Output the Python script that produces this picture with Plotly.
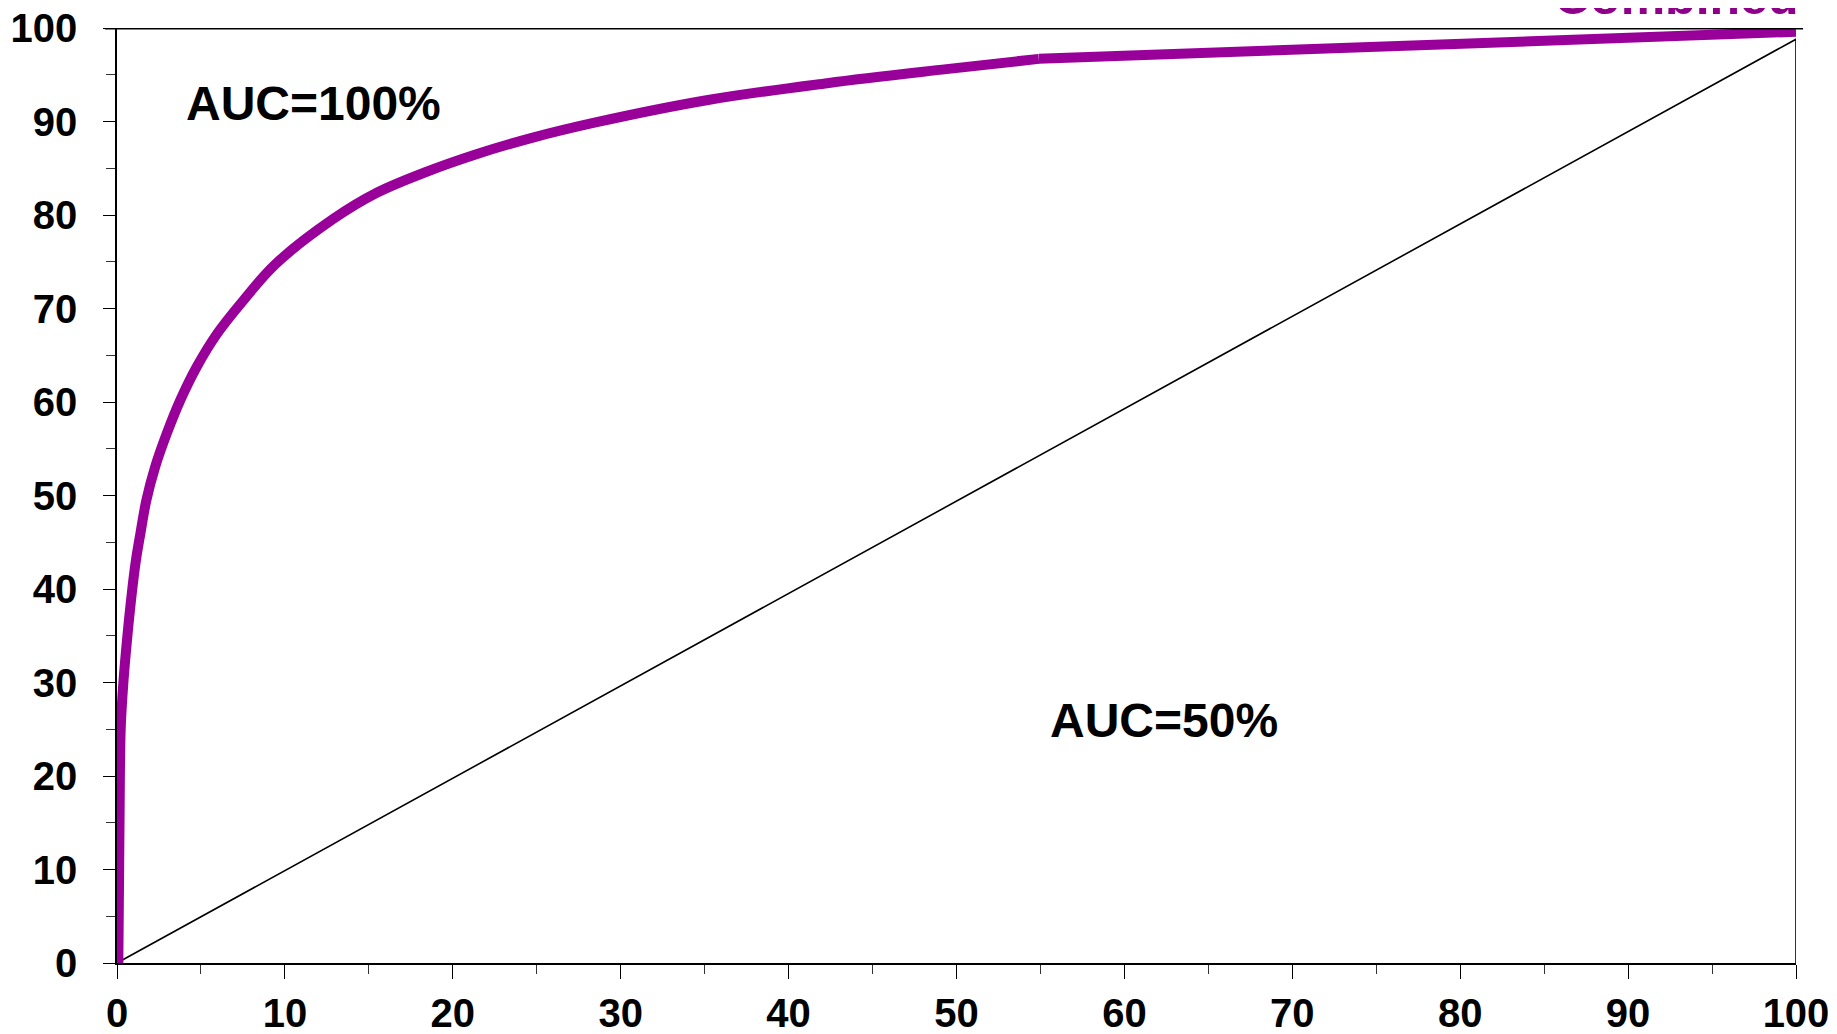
import plotly.graph_objects as go

# ROC curve "Combined" (false positive % vs true positive %): curved part up to the kink
combined_x = [0.08, 0.15, 0.22, 0.38, 0.62, 0.91, 1.13, 1.39, 1.75, 2.28, 2.98,
              3.77, 4.76, 5.96, 7.54, 9.41, 12.9, 15.5, 18.4, 21.4, 24.6, 28.5,
              35.2, 42.3, 49.4, 54.9]
combined_y = [0, 15, 25, 30, 35, 40, 43.1, 45.9, 49.5, 53.1, 56.7,
              60.2, 63.8, 67.3, 70.9, 74.7, 79.6, 82.4, 84.6, 86.5, 88.2, 89.9,
              92.3, 94.1, 95.6, 96.7]
# straight tail of the same curve after the kink
combined_tail_x = [54.9, 100]
combined_tail_y = [96.7, 99.6]

# chance (reference) line
chance_x = [0, 100, 100]
chance_y = [0, 98.8, 0]

tick_vals = [0, 10, 20, 30, 40, 50, 60, 70, 80, 90, 100]
tick_text = [str(v) for v in tick_vals]

PURPLE = "#990099"
FONT = "Liberation Sans, Arial, sans-serif"

fig = go.Figure()
fig.add_trace(go.Scatter(x=chance_x, y=chance_y, mode="lines",
                         line=dict(color="black", width=1.6),
                         cliponaxis=False, showlegend=False, hoverinfo="skip"))
fig.add_trace(go.Scatter(x=combined_x, y=combined_y, mode="lines",
                         line=dict(color=PURPLE, width=10, shape="spline", smoothing=1.0),
                         cliponaxis=False, showlegend=False, name="Combined"))
fig.add_trace(go.Scatter(x=combined_tail_x, y=combined_tail_y, mode="lines",
                         line=dict(color=PURPLE, width=10),
                         cliponaxis=False, showlegend=False, name="Combined"))

axis_common = dict(
    range=[0, 100], tickvals=tick_vals, ticktext=tick_text, automargin=False,
    ticklabeloverflow="allow",
    showgrid=False, zeroline=False, showline=True, linecolor="black", linewidth=1.6,
    ticks="outside", tickcolor="black", tickwidth=1.3,
    tickfont=dict(family=FONT, size=40, color="black", weight="bold"),
    minor=dict(dtick=5, ticks="outside", ticklen=9, tickcolor="#333333", tickwidth=1.2, showgrid=False),
    fixedrange=True,
)

fig.update_xaxes(**axis_common, ticklen=14, ticklabelstandoff=0)
fig.update_yaxes(**axis_common, ticklen=12, ticklabelstandoff=18)

# top border line
fig.add_shape(type="line", xref="paper", yref="y", x0=-0.00715, x1=1.0042, y0=100, y1=100,
              line=dict(color="black", width=3), layer="above")

fig.add_annotation(x=11.7, y=91.9, xref="x", yref="y", text="<b>AUC=100%</b>", showarrow=False,
                   font=dict(family=FONT, size=48, color="black"), xanchor="center", yanchor="middle")
fig.add_annotation(x=62.36, y=25.9, xref="x", yref="y", text="<b>AUC=50%</b>", showarrow=False,
                   font=dict(family=FONT, size=48, color="black"), xanchor="center", yanchor="middle")
fig.add_annotation(x=1.0024, y=1.0331, xref="paper", yref="paper", text="<b>Combined</b>", showarrow=False,
                   font=dict(family=FONT, size=50, color="#8E008A"), xanchor="right", yanchor="middle")

# page body has an 8px default margin, so the figure is sized to fill the rest of the window
fig.update_layout(
    width=1829, height=1026,
    margin=dict(l=109, r=41, t=20, b=71, autoexpand=False),
    paper_bgcolor="white", plot_bgcolor="white",
    showlegend=False,
)

fig.write_html("out.html")
